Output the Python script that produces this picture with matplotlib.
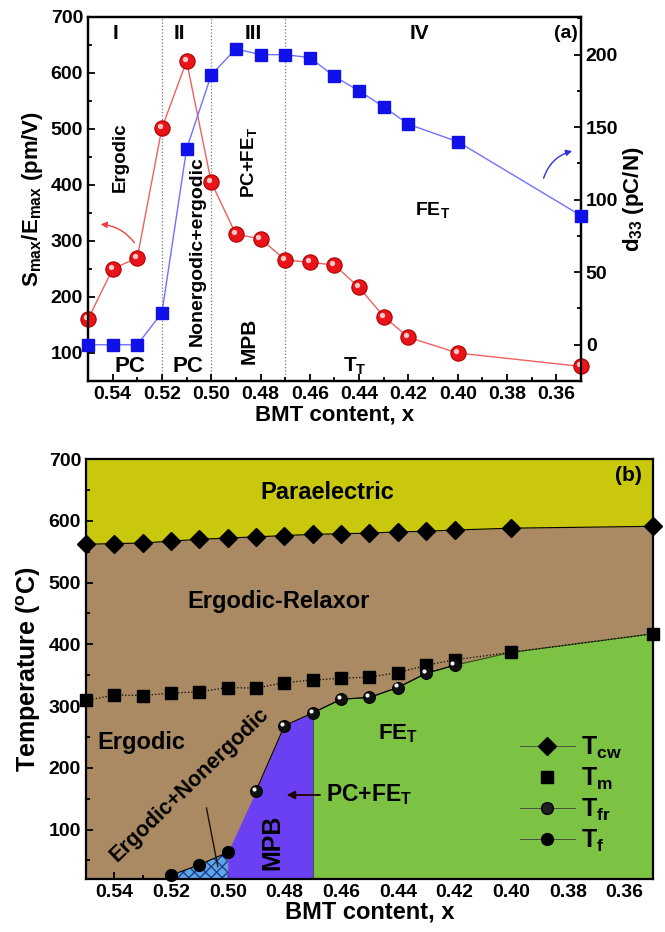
import matplotlib
matplotlib.use("Agg")
import matplotlib.pyplot as plt
import matplotlib.transforms as mtransforms
from matplotlib.ticker import MultipleLocator
from matplotlib.lines import Line2D

plt.rcParams['font.family'] = ['Liberation Sans', 'DejaVu Sans']
plt.rcParams['font.weight'] = 'bold'
plt.rcParams['axes.labelweight'] = 'bold'
plt.rcParams['mathtext.fontset'] = 'custom'
plt.rcParams['mathtext.rm'] = 'Liberation Sans:bold'
plt.rcParams['mathtext.bf'] = 'Liberation Sans:bold'
plt.rcParams['mathtext.it'] = 'Liberation Sans:bold'
plt.rcParams['mathtext.default'] = 'bf'
plt.rcParams['axes.linewidth'] = 1.6

# composition x (BMT content)
x = [0.55, 0.54, 0.53, 0.52, 0.51, 0.50, 0.49, 0.48, 0.47, 0.46, 0.45, 0.44, 0.43, 0.42, 0.40, 0.35]
xtick_vals = [0.54, 0.52, 0.50, 0.48, 0.46, 0.44, 0.42, 0.40, 0.38, 0.36]
xtick_labels = ['0.54', '0.52', '0.50', '0.48', '0.46', '0.44', '0.42', '0.40', '0.38', '0.36']

# (a) strain coefficient and d33
smax_emax = [160, 250, 270, 502, 621, 405, 312, 304, 266, 262, 257, 217, 165, 128, 100, 76]
d33 = [0, 0, 0, 22, 135, 186, 204, 200, 200, 198, 185, 175, 164, 152, 140, 89]

# (b) phase diagram temperatures
t_cw = [562, 563, 564, 567, 570, 572, 574, 576, 578, 579, 580, 582, 583, 585, 588, 591]
t_m = [309, 318, 317, 321, 323, 330, 329, 338, 342, 345, 347, 354, 366, 375, 387, 417]
x_fr = [0.49, 0.48, 0.47, 0.46, 0.45, 0.44, 0.43, 0.42]
t_fr = [163, 268, 289, 311, 314, 330, 353, 366]
x_f = [0.52, 0.51, 0.50]
t_f = [26, 43, 63]

fig = plt.figure(figsize=(6.65, 9.32), dpi=100)


def style_ticks(ax):
    ax.tick_params(which='both', direction='in', width=1.3, labelsize=14)
    ax.tick_params(which='major', length=5)
    ax.tick_params(which='minor', length=3)


def bold_ticks(ax):
    for lab in ax.get_xticklabels() + ax.get_yticklabels():
        lab.set_fontweight('bold')


def shiny(ax, xs, ys, color, edge, hl, ms, zorder=5):
    ax.plot(xs, ys, 'o', color=color, mec=edge, mew=0.8, ms=ms, zorder=zorder, clip_on=False)
    off = mtransforms.offset_copy(ax.transData, fig=fig, x=-1.5, y=1.5, units='points')
    ax.plot(xs, ys, 'o', color=hl, mec='none', ms=ms * 0.35, zorder=zorder + 0.1,
            transform=off, clip_on=False)


# ---------------- (a) ----------------
ax1 = fig.add_axes([0.1323, 0.5912, 0.7414, 0.3906])
ax2 = ax1.twinx()

for xv in [0.52, 0.50, 0.47]:
    ax1.axvline(xv, color='#777777', ls=':', lw=0.9, zorder=1)

ax1.plot(x, smax_emax, '-', color='#f06060', lw=1.0, zorder=3)
shiny(ax1, x, smax_emax, '#e8141a', '#b00000', '#ffc8c8', 11)
ax2.plot(x, d33, '-s', color='#7070ff', lw=1.0, mfc='#1010e8', mec='#1010e8', ms=9,
         zorder=3, clip_on=False)

ax1.set_xlim(0.55, 0.35)
ax1.set_ylim(50, 700)
ax2.set_ylim(-25, 226)
ax1.xaxis.set_minor_locator(MultipleLocator(0.01))
ax1.yaxis.set_major_locator(MultipleLocator(100))
ax1.yaxis.set_minor_locator(MultipleLocator(50))
ax2.yaxis.set_major_locator(MultipleLocator(50))
ax2.yaxis.set_minor_locator(MultipleLocator(25))
style_ticks(ax1)
style_ticks(ax2)
ax1.set_xticks(xtick_vals)
ax1.set_xticklabels(xtick_labels)
bold_ticks(ax1)
bold_ticks(ax2)
ax1.set_xlabel('BMT content, x', fontsize=16, labelpad=1)
ax1.set_ylabel('S$_{max}$/E$_{max}$ (pm/V)', fontsize=16, labelpad=4)
ax2.set_ylabel('d$_{33}$ (pC/N)', fontsize=16, labelpad=2)

for txt, xv in [('I', 0.539), ('II', 0.513), ('III', 0.483), ('IV', 0.4157)]:
    ax1.text(xv, 671, txt, ha='center', va='center', fontsize=15)
ax1.text(0.3561, 671, '(a)', ha='center', va='center', fontsize=14)
ax1.text(0.537, 450, 'Ergodic', rotation=90, ha='center', va='center', fontsize=13.5)
ax1.text(0.5055, 282, 'Nonergodic+ergodic', rotation=90, ha='center', va='center', fontsize=14)
ax1.text(0.4847, 440, 'PC+FE$_T$', rotation=90, ha='center', va='center', fontsize=13.5)
ax1.text(0.4847, 121, 'MPB', rotation=90, ha='center', va='center', fontsize=15)
ax1.text(0.5329, 76, 'PC', ha='center', va='center', fontsize=16)
ax1.text(0.5095, 76, 'PC', ha='center', va='center', fontsize=16)
ax1.text(0.4418, 77, 'T$_T$', ha='center', va='center', fontsize=15)
ax1.text(0.41, 355, 'FE$_T$', ha='center', va='center', fontsize=14)

ax1.annotate('', xy=(0.546, 330), xytext=(0.5305, 293),
             arrowprops=dict(arrowstyle='-|>', color='#f04040', lw=1.0,
                             mutation_scale=9, connectionstyle='arc3,rad=0.25'))
ax2.annotate('', xy=(0.3525, 134), xytext=(0.3655, 113),
             arrowprops=dict(arrowstyle='-|>', color='#3030e0', lw=1.0,
                             mutation_scale=9, connectionstyle='arc3,rad=-0.3'))

# ---------------- (b) ----------------
ax3 = fig.add_axes([0.1293, 0.0569, 0.8526, 0.4506])
ax3.set_xlim(0.55, 0.35)
ax3.set_ylim(20, 700)

yellow = '#c9c80c'
brown = '#a98a62'
green = '#7cc243'
purple = '#6b3ff2'

ax3.set_facecolor(yellow)
ax3.fill_between(x, t_cw, 0, color=brown, lw=0, zorder=1)

# FE_T region: bounded by T_fr up to 0.42, then T_m
x_green = x_fr[2:] + [0.40, 0.35]
t_green = t_fr[2:] + [t_m[x.index(0.40)], t_m[x.index(0.35)]]
ax3.fill_between(x_green, t_green, 0, color=green, lw=0, zorder=2)
ax3.plot(x_green, t_green, '-', color='#305020', lw=0.8, zorder=2.5)
ax3.plot([0.47, 0.47], [0, t_fr[2]], '-', color='#404040', lw=0.6, zorder=2.5)

# MPB region
x_mpb = [x_f[-1]] + x_fr[:3]
t_mpb = [t_f[-1]] + t_fr[:3]
ax3.fill_between(x_mpb, t_mpb, 0, color=purple, lw=0, zorder=2)

# ergodic + nonergodic coexistence
ax3.fill_between(x_f, t_f, 0, facecolor='#5ea6ea', edgecolor='#1d3f8a', hatch='xxx',
                 lw=0, zorder=2)

ax3.plot(x, t_cw, '-D', color='black', lw=0.8, ms=9, zorder=5, clip_on=False)
ax3.plot(x, t_m, ':s', color='black', lw=0.9, ms=8, zorder=5, clip_on=False)
ax3.plot(x_fr, t_fr, '-', color='black', lw=0.8, zorder=4)
shiny(ax3, x_fr, t_fr, '#101010', 'black', '#f4f4f4', 8.5, zorder=6)
ax3.plot(x_f, t_f, '-o', color='black', lw=0.8, ms=8.5, zorder=5, clip_on=False)

h_cw = Line2D([], [], color='#404040', lw=0.6, marker='D', ms=9, mfc='black', mec='black')
h_m = Line2D([], [], color='none', marker='s', ms=8, mfc='black', mec='black')
h_fr = Line2D([], [], color='#404040', lw=0.6, marker='o', ms=8.5, mfc='#202020', mec='black')
h_f = Line2D([], [], color='#404040', lw=0.6, marker='o', ms=8.5, mfc='black', mec='black')
leg = ax3.legend([h_cw, h_m, h_fr, h_f], ['T$_{cw}$', 'T$_m$', 'T$_{fr}$', 'T$_f$'],
                 loc='lower right', bbox_to_anchor=(0.985, 0.005), frameon=False,
                 fontsize=18, handlelength=2.2, handletextpad=0.25, labelspacing=0.2)
leg.set_zorder(7)

ax3.xaxis.set_minor_locator(MultipleLocator(0.01))
ax3.yaxis.set_minor_locator(MultipleLocator(50))
ax3.set_yticks([100, 200, 300, 400, 500, 600, 700])
style_ticks(ax3)
ax3.set_xticks(xtick_vals)
ax3.set_xticklabels(xtick_labels)
bold_ticks(ax3)
ax3.set_xlabel('BMT content, x', fontsize=17, labelpad=0)
ax3.set_ylabel('Temperature ($^o$C)', fontsize=18, labelpad=4)
for sp in ax3.spines.values():
    sp.set_zorder(8)

ax3.text(0.465, 646, 'Paraelectric', ha='center', va='center', fontsize=17)
ax3.text(0.482, 469, 'Ergodic-Relaxor', ha='center', va='center', fontsize=17)
ax3.text(0.5303, 241, 'Ergodic', ha='center', va='center', fontsize=17)
ax3.text(0.5135, 173, 'Ergodic+Nonergodic', rotation=44, ha='center', va='center', fontsize=15.5)
ax3.text(0.4844, 79, 'MPB', rotation=90, ha='center', va='center', fontsize=18)
ax3.text(0.44, 255, 'FE$_T$', ha='center', va='center', fontsize=16)
ax3.text(0.3588, 673, '(b)', ha='center', va='center', fontsize=15)
ax3.annotate('PC+FE$_T$', xy=(0.4802, 156), xytext=(0.4655, 156), ha='left', va='center',
             fontsize=16.5,
             arrowprops=dict(arrowstyle='-|>', color='#200000', lw=1.3, mutation_scale=12))
ax3.plot([0.5075, 0.5035], [135, 40], '-', color='#201000', lw=1.0, zorder=6)

fig.savefig('out.png', dpi=100)
